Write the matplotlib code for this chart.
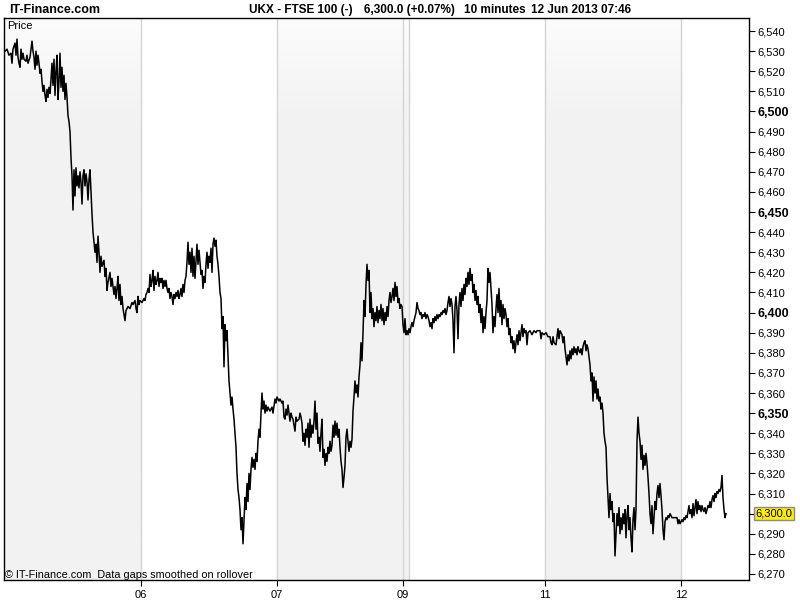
import numpy as np
import matplotlib.pyplot as plt
from matplotlib.colors import LinearSegmentedColormap
import matplotlib.transforms as mtransforms

# UKX - FTSE 100, 10 minute bars, 5-12 Jun 2013
# (bar, price) pairs, one list per session

day05 = [(5,6530),(7,6531),(9,6528),(11,6529),(12,6524),(13,6531),(15,6534),(16,6528),(17,6536),(18,6527),
         (19,6524),(20,6522),(21,6531),(22,6526),(23,6529),(24,6526),(26,6525),(27,6528),(28,6524),(30,6527),
         (31,6531),(32,6535),(33,6530),(34,6527),(35,6521),(36,6530),(37,6523),(38,6528),(39,6524),(40,6519),
         (41,6521),(42,6515),(43,6510),(44,6513),(45,6508),(46,6505),(47,6511),(48,6507),(49,6512),(50,6509),
         (51,6516),(52,6524),(53,6513),(54,6526),(55,6508),(56,6520),(57,6528),(58,6506),(59,6515),(60,6529),
         (61,6512),(62,6522),(63,6510),(64,6518),(65,6506),(66,6514),(67,6507),(68,6498),(69,6495),(70,6490),
         (71,6477),(72,6468),(73,6451),(74,6471),(75,6458),(76,6472),(77,6463),(78,6468),(79,6462),(80,6470),
         (81,6465),(82,6454),(83,6468),(84,6471),(85,6463),(86,6469),(87,6465),(88,6456),(89,6466),(90,6471),
         (91,6460),(92,6449),(93,6440),(94,6435),(95,6430),(96,6434),(97,6425),(98,6438),(99,6430),(100,6420),
         (101,6428),(102,6423),(104,6426),(105,6418),(106,6422),(107,6411),(108,6415),(110,6420),(111,6413),
         (112,6417),(114,6409),(115,6413),(116,6407),(117,6412),(118,6418),(119,6406),(120,6414),(121,6404),
         (122,6408),(123,6402),(125,6396),(126,6401),(128,6403),(130,6402),(132,6405),(133,6404),(135,6406),
         (136,6402),(137,6400),(138,6408),(139,6404),(140,6406)]

day06 = [(142,6405),(144,6407),(145,6406),(146,6409),(147,6410),(148,6412),(149,6410),(150,6419),(151,6413),
         (152,6416),(153,6421),(154,6411),(155,6418),(156,6414),(157,6416),(158,6420),(159,6413),(160,6417),
         (161,6415),(162,6417),(163,6412),(164,6416),(165,6413),(166,6416),(167,6412),(168,6410),(169,6412),
         (170,6407),(171,6410),(172,6408),(173,6404),(174,6409),(175,6407),(176,6410),(177,6408),(178,6411),
         (179,6407),(180,6409),(181,6412),(182,6408),(183,6414),(184,6410),(185,6416),(186,6418),(187,6425),
         (188,6435),(189,6424),(190,6430),(191,6420),(192,6432),(193,6418),(194,6428),(195,6417),(196,6426),
         (197,6434),(198,6424),(199,6431),(200,6425),(201,6419),(202,6421),(203,6412),(204,6418),(205,6415),
         (206,6424),(207,6430),(208,6422),(209,6428),(210,6425),(211,6432),(212,6420),(213,6434),(214,6437),
         (215,6433),(216,6436),(217,6428),(218,6424),(219,6418),(220,6410),(221,6407),(222,6392),(223,6398),
         (224,6373),(225,6394),(226,6386),(227,6391),(228,6378),(229,6366),(230,6360),(231,6354),(232,6358),
         (233,6352),(234,6347),(235,6340),(236,6333),(237,6320),(238,6312),(239,6308),(240,6302),(241,6292),
         (242,6298),(243,6285),(244,6296),(245,6308),(246,6302),(247,6315),(248,6306),(249,6320),(250,6312),
         (251,6322),(252,6328),(253,6323),(254,6327),(255,6322),(256,6330),(257,6326),(258,6336),(259,6342),
         (260,6338),(261,6350),(262,6360),(263,6352),(264,6356),(265,6350),(266,6354),(267,6351),(268,6353),
         (270,6351),(272,6353),(273,6350),(275,6357),(276,6355)]

day07 = [(277,6358),(279,6356),(280,6357),(282,6355),(283,6356),(284,6348),(285,6347),(286,6352),(287,6349),
         (288,6354),(289,6350),(290,6346),(291,6350),(292,6348),(293,6347),(294,6344),(295,6341),(296,6348),
         (297,6346),(299,6347),(300,6350),(301,6348),(302,6345),(303,6336),(304,6340),(305,6334),(306,6342),
         (307,6338),(308,6345),(309,6333),(310,6347),(311,6338),(312,6344),(313,6340),(314,6346),(315,6356),
         (316,6342),(317,6350),(318,6335),(319,6338),(320,6331),(321,6340),(322,6347),(323,6328),(324,6332),
         (325,6324),(326,6330),(327,6326),(328,6333),(329,6330),(330,6336),(331,6331),(332,6334),(333,6344),
         (334,6338),(335,6346),(336,6339),(337,6345),(338,6338),(339,6342),(340,6333),(341,6326),(342,6322),
         (343,6313),(344,6318),(345,6324),(346,6338),(347,6342),(348,6336),(349,6331),(350,6336),(351,6333),
         (352,6337),(353,6351),(354,6358),(355,6366),(356,6360),(357,6364),(358,6358),(359,6368),(360,6374),
         (361,6385),(362,6376),(363,6390),(364,6406),(365,6398),(366,6414),(367,6424),(368,6416),(369,6421),
         (370,6400),(371,6410),(372,6397),(373,6402),(374,6393),(375,6400),(376,6396),(377,6403),(378,6395),
         (379,6401),(380,6397),(381,6404),(382,6396),(383,6402),(384,6394),(385,6400),(386,6396),(387,6403),
         (388,6398),(389,6406),(390,6410),(391,6405),(392,6408),(393,6412),(394,6406),(395,6415),(396,6408),
         (397,6413),(398,6405),(399,6407),(400,6402),(401,6404),(402,6403)]

day09 = [(403,6394),(404,6390),(405,6397),(406,6389),(407,6391),(408,6389)]

day10 = [(409,6392),(410,6390),(411,6393),(412,6395),(413,6393),(414,6396),(415,6398),(416,6400),(417,6405),
         (418,6402),(419,6401),(420,6399),(421,6400),(422,6397),(423,6399),(424,6398),(425,6400),(426,6397),
         (427,6399),(428,6398),(429,6396),(430,6393),(431,6395),(432,6392),(433,6397),(434,6395),(435,6398),
         (436,6396),(437,6399),(438,6397),(439,6399),(440,6398),(441,6400),(442,6399),(443,6401),(444,6400),
         (445,6402),(446,6399),(447,6401),(448,6405),(449,6408),(450,6403),(451,6407),(452,6404),(453,6396),
         (454,6380),(455,6403),(456,6408),(457,6401),(458,6387),(459,6404),(460,6410),(461,6403),(462,6412),
         (463,6406),(464,6414),(465,6409),(466,6417),(467,6413),(468,6420),(469,6414),(470,6422),(471,6416),
         (472,6419),(473,6410),(474,6414),(475,6406),(476,6411),(477,6404),(478,6408),(479,6400),(480,6404),
         (481,6395),(482,6402),(483,6390),(484,6398),(485,6392),(486,6400),(487,6406),(488,6422),(489,6415),
         (490,6420),(491,6412),(492,6404),(493,6390),(494,6398),(495,6393),(496,6402),(497,6409),(498,6400),
         (499,6412),(500,6398),(501,6406),(502,6394),(503,6404),(504,6397),(505,6402),(506,6399),(507,6393),
         (508,6397),(509,6389),(510,6392),(511,6385),(512,6388),(513,6382),(514,6386),(515,6380),(516,6385),
         (517,6389),(518,6384),(519,6391),(520,6386),(521,6390),(522,6394),(523,6388),(524,6392),(525,6390),
         (526,6391),(527,6384),(528,6390),(530,6391),(532,6389),(534,6391),(536,6390),(537,6391),(540,6391),
         (541,6387),(542,6390),(544,6389)]

day11 = [(546,6390),(548,6388),(550,6388),(551,6385),(552,6384),(553,6388),(554,6385),(556,6384),(557,6388),
         (558,6392),(559,6387),(560,6391),(562,6389),(563,6385),(564,6388),(565,6382),(566,6378),(567,6374),
         (568,6379),(569,6376),(570,6381),(571,6377),(572,6382),(573,6379),(574,6383),(575,6380),(576,6382),
         (577,6379),(578,6383),(579,6381),(580,6380),(581,6382),(582,6379),(583,6383),(584,6385),(585,6386),
         (586,6381),(587,6384),(588,6382),(589,6378),(590,6374),(591,6366),(592,6370),(593,6356),(594,6368),
         (595,6360),(596,6366),(597,6357),(598,6362),(599,6356),(600,6358),(601,6352),(602,6355),(603,6350),
         (604,6340),(605,6336),(606,6333),(607,6318),(608,6308),(609,6298),(610,6310),(611,6302),(612,6306),
         (613,6296),(614,6300),(615,6279),(616,6290),(617,6300),(618,6294),(619,6303),(620,6290),(621,6298),
         (622,6292),(623,6300),(624,6295),(625,6302),(626,6288),(627,6299),(628,6304),(629,6292),(630,6298),
         (631,6288),(632,6281),(633,6297),(634,6303),(635,6292),(636,6302),(637,6336),(638,6348),(639,6340),
         (640,6336),(641,6327),(642,6334),(643,6322),(644,6329),(645,6324),(646,6330),(647,6325),(648,6318),
         (649,6310),(650,6300),(651,6295),(652,6304),(653,6290),(654,6298),(655,6306),(656,6302),(657,6310),
         (658,6314),(659,6308),(660,6315),(661,6309),(662,6302),(663,6292),(664,6287),(665,6296),(666,6298),
         (667,6297),(668,6299),(669,6298),(670,6300),(671,6299),(672,6298),(677,6298),(678,6295),(679,6297),
         (680,6295)]

day12 = [(681,6296),(682,6297),(683,6296),(684,6298),(685,6297),(686,6299),(687,6298),(688,6301),(689,6304),
         (690,6300),(691,6302),(692,6298),(693,6305),(694,6299),(695,6303),(696,6307),(697,6300),(698,6306),
         (699,6302),(700,6304),(701,6301),(702,6304),(703,6302),(704,6301),(705,6303),(706,6300),(707,6302),
         (708,6304),(709,6303),(710,6306),(711,6303),(712,6307),(713,6309),(714,6306),(715,6310),(716,6308),
         (717,6311),(718,6310),(719,6312),(720,6311),(721,6313),(722,6319),(723,6308),(724,6302),(725,6298),
         (726,6300.0)]

# session starts (bar numbers) and whether shaded
session_starts = [4, 141, 277, 403, 409, 545, 681]
session_end = 749
shaded = [True, False, True, True, False, True, False]
tick_bars = [141, 277, 403, 545, 681]
tick_labels = ['06', '07', '09', '11', '12']

last_price = 6300.0
y_ticks = list(range(6270, 6541, 10))

data = day05 + day06 + day07 + day09 + day10 + day11 + day12
bars = np.array([d[0] for d in data])
prices = np.array([d[1] for d in data])

plt.rcParams['font.family'] = ['Liberation Sans', 'DejaVu Sans']

fig = plt.figure(figsize=(8, 6), dpi=100)
ax = fig.add_axes([4/800, 20/600, 745/800, 562/600])
ymin, ymax = 6267.0, 6546.5
ax.set_xlim(4, session_end)
ax.set_ylim(ymin, ymax)

# shaded sessions, fading to white right at the top
grey = LinearSegmentedColormap.from_list('g', [(0, '#f2f2f2'), (0.82, '#f2f2f2'), (1, '#fcfcfc')])
grad = np.linspace(0, 1, 200).reshape(-1, 1)
edges = session_starts + [session_end]
for i, s in enumerate(session_starts):
    if shaded[i]:
        ax.imshow(grad, extent=[s, edges[i+1], ymin, ymax], origin='lower',
                  aspect='auto', cmap=grey, zorder=0, interpolation='bilinear')
for s in session_starts[1:]:
    ax.axvline(s, color='#d4d4d4', lw=1, zorder=1)

ax.plot(bars, prices, color='black', lw=1.1, zorder=3)

# axes styling
for sp in ax.spines.values():
    sp.set_color('black')
    sp.set_linewidth(1)
ax.yaxis.tick_right()
ax.set_yticks(y_ticks)
labels = []
for v in y_ticks:
    labels.append('' if v == 6300 else f'{v:,}')
ax.set_yticklabels(labels)
for lab, v in zip(ax.get_yticklabels(), y_ticks):
    if v % 50 == 0:
        lab.set_fontweight('bold')
        lab.set_fontsize(9)
    else:
        lab.set_fontsize(8)
ax.tick_params(axis='y', direction='out', length=4, width=0.8, pad=2, colors='black')
ax.set_xticks(tick_bars)
ax.set_xticklabels(tick_labels, fontsize=8)
ax.tick_params(axis='x', direction='out', length=4, width=0.8, pad=3)

# last price box
trans = mtransforms.blended_transform_factory(ax.transAxes, ax.transData)
ax.text(1.0085, last_price, f'{last_price:,.1f}', transform=trans, fontsize=8,
        va='center', ha='left', clip_on=False,
        bbox=dict(boxstyle='square,pad=0.15', fc='#ffee00', ec='#8c8c8c', lw=1))

# header pieces
head_y = 1 - 10/600
fig.text(9/800, head_y, 'IT-Finance.com', fontsize=9, fontweight='bold', va='center', ha='left')
fig.text(249/800, head_y, 'UKX - FTSE 100 (-)', fontsize=8.5, fontweight='bold', va='center', ha='left')
fig.text(364/800, head_y, '6,300.0 (+0.07%)', fontsize=8.5, fontweight='bold', va='center', ha='left')
fig.text(464/800, head_y, '10 minutes', fontsize=8.5, fontweight='bold', va='center', ha='left')
fig.text(531/800, head_y, '12 Jun 2013 07:46', fontsize=8.5, fontweight='bold', va='center', ha='left')

fig.text(7/800, 1 - 26/600, 'Price', fontsize=8, va='center', ha='left')
fig.text(5/800, 1 - 575/600, '\u00a9 IT-Finance.com  Data gaps smoothed on rollover',
         fontsize=7.8, va='center', ha='left')

fig.savefig('out.png', dpi=100)
